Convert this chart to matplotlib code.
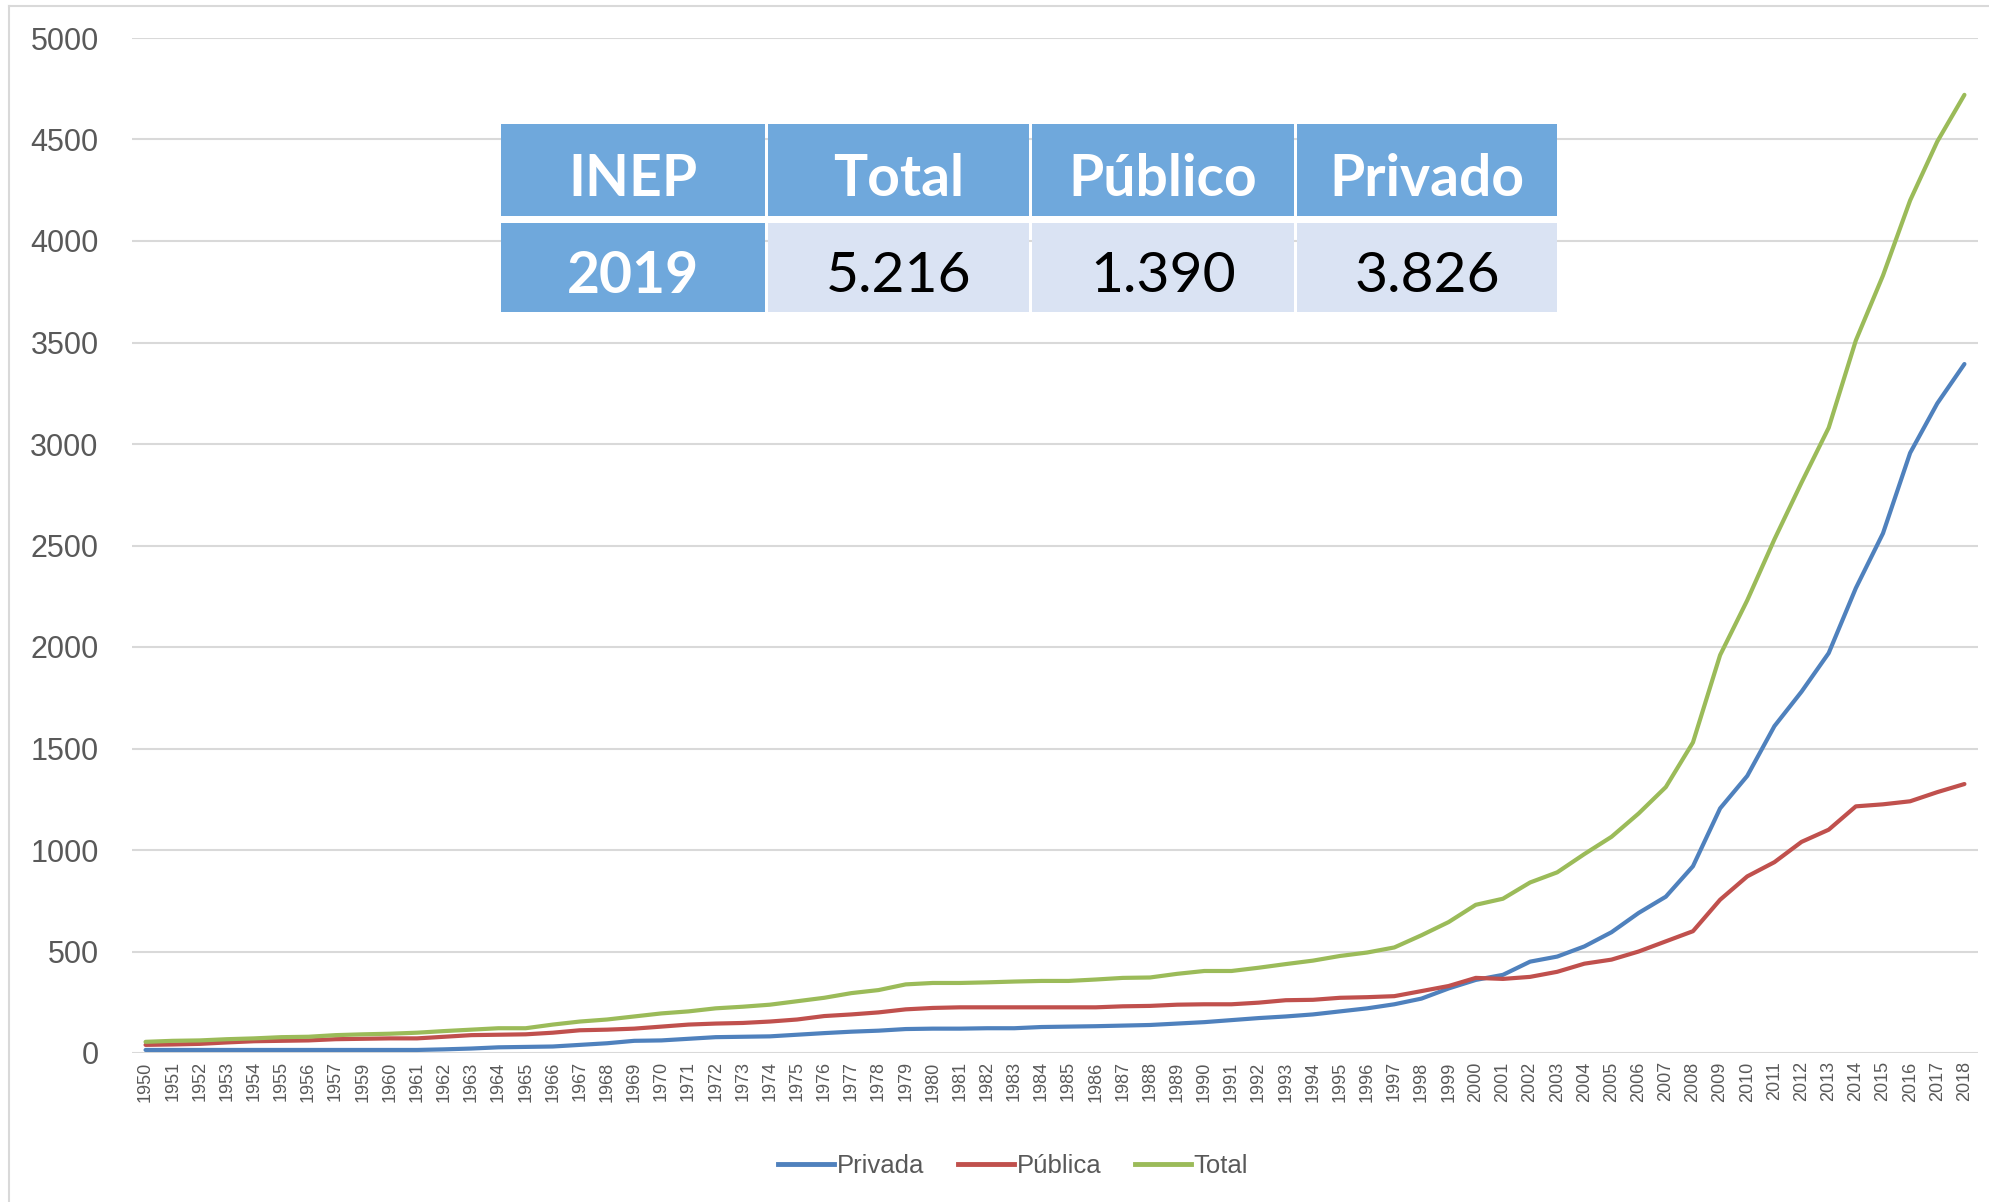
"""
Evolução do número de instituições de ensino superior no Brasil (1950-2018),
por categoria administrativa, com quadro-resumo do Censo INEP 2019.

Saída: out.png
"""

import matplotlib.pyplot as plt
from matplotlib.lines import Line2D
from matplotlib.patches import Rectangle

YEARS = [1950, 1951, 1952, 1953, 1954, 1955, 1956, 1957] + list(range(1959, 2019))

PRIVADA = [
    15, 15, 15, 15, 15, 15, 15, 15, 15, 15,
    15, 18, 22, 28, 30, 32, 40, 48, 60, 62,
    70, 78, 80, 82, 90, 98, 105, 110, 118, 120,
    120, 122, 122, 128, 130, 132, 135, 138, 145, 152,
    162, 172, 180, 190, 205, 220, 240, 268, 318, 360,
    385, 450, 475, 525, 595, 690, 770, 920, 1205, 1365,
    1610, 1780, 1970, 2290, 2560, 2956, 3200, 3394,
]
PUBLICA = [
    40, 42, 45, 52, 58, 60, 62, 68, 70, 72,
    72, 80, 88, 90, 92, 100, 112, 115, 120, 130,
    140, 145, 148, 155, 165, 182, 190, 200, 215, 222,
    225, 225, 225, 225, 225, 225, 230, 232, 238, 240,
    240, 248, 260, 262, 272, 275, 280, 305, 330, 370,
    365, 375, 400, 440, 460, 500, 550, 600, 755, 870,
    940, 1040, 1100, 1215, 1225, 1240, 1285, 1325,
]
TOTAL = [
    55, 60, 62, 68, 72, 78, 80, 88, 92, 95,
    100, 108, 115, 122, 122, 140, 155, 165, 180, 195,
    205, 220, 228, 238, 255, 272, 295, 310, 338, 345,
    345, 348, 352, 355, 355, 362, 370, 372, 390, 404,
    404, 420, 438, 455, 478, 495, 520, 580, 645, 730,
    760, 840, 890, 980, 1065, 1180, 1310, 1530, 1960, 2230,
    2530, 2810, 3080, 3510, 3830, 4200, 4490, 4720,
]

SERIES_NAMES = ["Privada", "Pública", "Total"]
SERIES_COLORS = ["#4F81BD", "#C0504D", "#9BBB59"]

TABLE_HEADER = ["INEP", "Total", "Público", "Privado"]
TABLE_ROW = ["2019", "5.216", "1.390", "3.826"]

TEXT_GREY = "#595959"
GRID_GREY = "#D9D9D9"
HEADER_BLUE = "#6FA8DC"
CELL_LIGHT = "#DAE3F3"

W, H = 1990, 1202


def fx(px: float) -> float:
    return px / W


def fy(py: float) -> float:
    return 1 - py / H


def draw_table(fig: plt.Figure) -> None:
    col_edges = [501, 765, 1029, 1294, 1557]
    rows = [(124, 216, TABLE_HEADER), (223, 312, TABLE_ROW)]
    gap = 3
    for r, (top, bottom, labels) in enumerate(rows):
        for c, label in enumerate(labels):
            x0 = col_edges[c] + (gap if c > 0 else 0)
            x1 = col_edges[c + 1]
            is_blue = r == 0 or c == 0
            fig.patches.append(
                Rectangle(
                    (fx(x0), fy(bottom)),
                    fx(x1 - x0),
                    (bottom - top) / H,
                    transform=fig.transFigure,
                    facecolor=HEADER_BLUE if is_blue else CELL_LIGHT,
                    edgecolor="none",
                    zorder=5,
                )
            )
            fig.text(
                fx((x0 + x1) / 2),
                fy((top + bottom) / 2 + 9),
                label,
                ha="center",
                va="center",
                fontsize=41,
                family="Lato",
                fontweight="bold" if is_blue else "normal",
                color="white" if is_blue else "black",
                zorder=6,
            )


def main() -> None:
    fig = plt.figure(figsize=(W / 100, H / 100), dpi=100)
    ax = fig.add_axes([fx(132), fy(1053), fx(1978 - 132), (1053 - 38) / H])

    x = list(range(len(YEARS)))
    for values, name, color in zip([PRIVADA, PUBLICA, TOTAL], SERIES_NAMES, SERIES_COLORS):
        ax.plot(x, values, color=color, linewidth=3, label=name, solid_capstyle="round", zorder=3)

    ax.set_xlim(-0.5, len(YEARS) - 0.5)
    ax.set_ylim(0, 5000)
    ax.set_yticks(range(0, 5001, 500))
    ax.set_xticks(x)
    ax.set_xticklabels([str(y) for y in YEARS], rotation=90, fontsize=13,
                       family="Liberation Sans", color=TEXT_GREY)
    for label in ax.get_yticklabels():
        label.set_family("Liberation Sans")
    ax.tick_params(axis="y", length=0, pad=24, labelsize=22, labelcolor=TEXT_GREY)
    ax.tick_params(axis="x", length=0, pad=6)
    ax.grid(axis="y", color=GRID_GREY, linewidth=1.5)
    ax.set_axisbelow(True)
    for side in ["top", "right", "left", "bottom"]:
        ax.spines[side].set_visible(False)

    handles = [Line2D([], [], color=c, linewidth=3.5) for c in SERIES_COLORS]
    fig.legend(
        handles,
        SERIES_NAMES,
        loc="center",
        bbox_to_anchor=(fx(1013), fy(1166)),
        ncol=3,
        frameon=False,
        handlelength=2.2,
        handletextpad=0.1,
        columnspacing=1.3,
        prop={"family": "Liberation Sans", "size": 18.5},
        labelcolor=TEXT_GREY,
    )

    # moldura cinza clara do gráfico
    fig.add_artist(Line2D([fx(9), fx(9)], [fy(6), fy(1202)], color=GRID_GREY, linewidth=1.5,
                          transform=fig.transFigure))
    fig.add_artist(Line2D([fx(9), fx(1990)], [fy(6), fy(6)], color=GRID_GREY, linewidth=1.5,
                          transform=fig.transFigure))

    draw_table(fig)

    fig.savefig("out.png", dpi=100, facecolor="white")
    plt.close(fig)


if __name__ == "__main__":
    main()
